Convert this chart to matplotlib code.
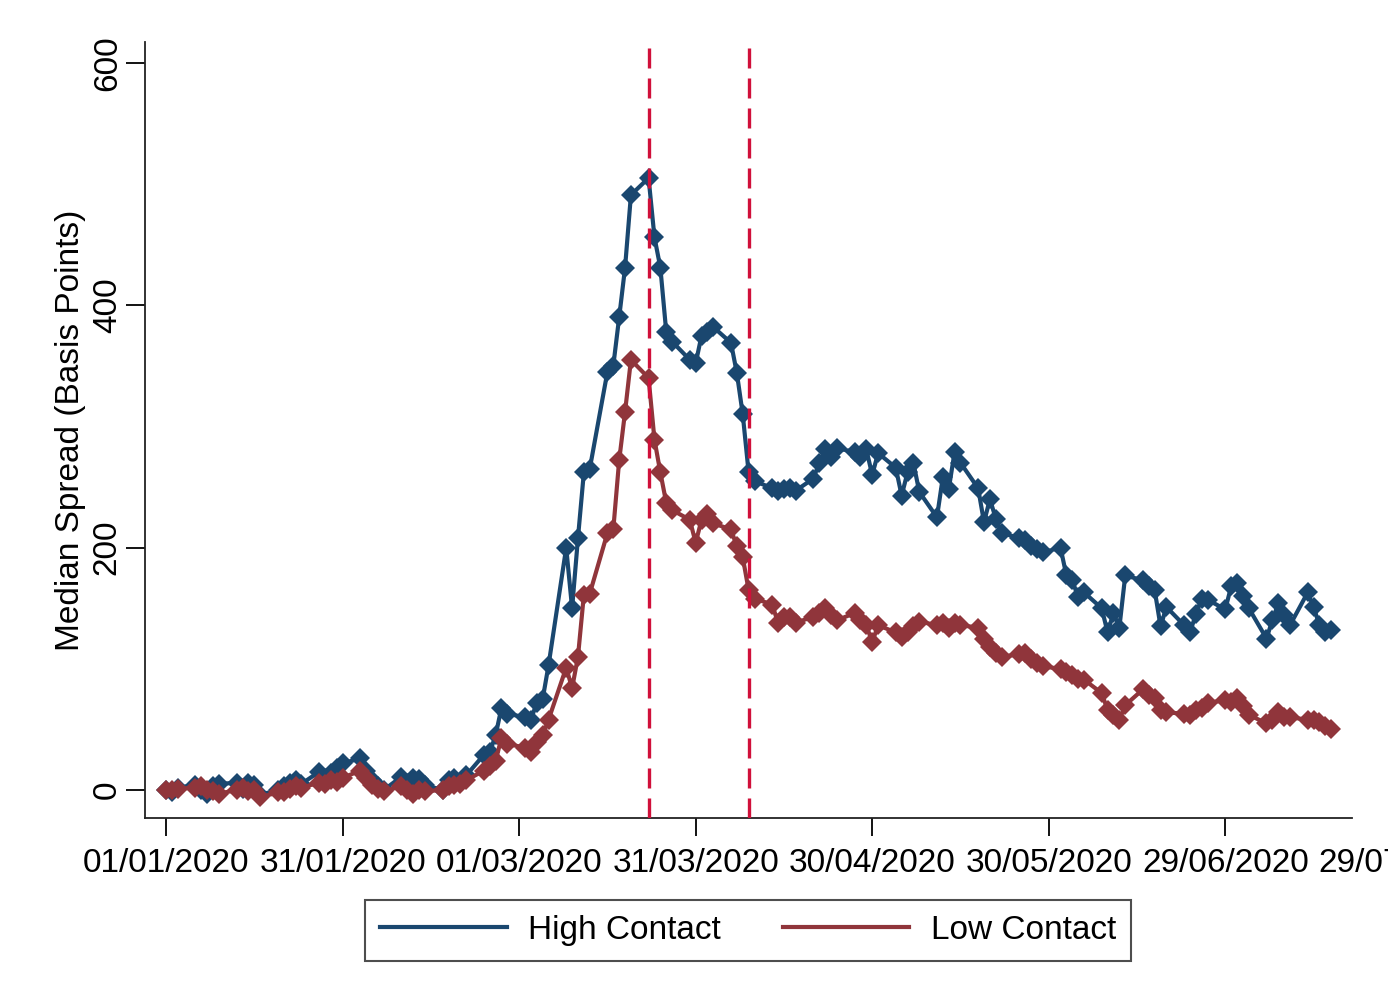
import numpy as np
import pandas as pd
import matplotlib
matplotlib.use('Agg')
import matplotlib.pyplot as plt
import matplotlib.dates as mdates
from matplotlib.lines import Line2D

plt.rcParams['font.family'] = ['Liberation Sans', 'DejaVu Sans']

# trading days, 1 Jan - 17 Jul 2020
dates = pd.bdate_range('2020-01-01', '2020-07-17')

# median spread, basis points (one row per month)
high_contact = (
    [0, -2, 2, 4, 0, -3, 3, 5, 6, 1, 6, 4, -4, 0, 3, 6, 8, 5, 15, 10, 14, 18, 22]
    + [26, 16, 8, 3, 0, 11, 6, 10, 9, 4, 0, 8, 10, 6, 12, 29, 31, 45, 68, 63]
    + [60, 58, 72, 75, 103, 200, 150, 208, 262, 265, 345, 350, 390, 431, 491, 505, 456, 431, 378, 370, 355, 352]
    + [375, 378, 382, 369, 344, 310, 262, 255, 249, 247, 248, 249, 247, 257, 270, 281, 275, 282, 279, 275, 281, 260]
    + [278, 266, 243, 262, 270, 246, 225, 258, 248, 279, 270, 249, 221, 240, 224, 212, 208, 206, 201, 199, 196]
    + [200, 177, 173, 159, 163, 150, 130, 146, 134, 177, 173, 168, 165, 135, 151, 136, 130, 145, 158, 157, 149, 168]
    + [171, 160, 150, 125, 140, 154, 144, 136, 163, 151, 136, 130, 132]
)
low_contact = (
    [0, 0, 1, 2, 3, 0, -1, -3, 0, 2, -1, 0, -6, -2, -2, 1, 3, 2, 6, 5, 8, 7, 10]
    + [16, 10, 4, 1, -1, 3, 0, -3, 0, -1, 0, 3, 4, 5, 8, 16, 20, 24, 43, 38]
    + [35, 31, 40, 45, 58, 101, 84, 110, 161, 162, 212, 215, 272, 312, 355, 340, 289, 262, 237, 231, 223, 204]
    + [223, 228, 220, 215, 201, 192, 165, 158, 153, 138, 143, 143, 138, 143, 146, 150, 144, 140, 146, 140, 136, 122]
    + [136, 130, 126, 130, 135, 139, 136, 138, 134, 138, 136, 134, 125, 118, 113, 110, 112, 113, 108, 105, 102]
    + [100, 97, 95, 92, 91, 80, 66, 62, 58, 70, 83, 78, 76, 66, 64, 63, 62, 66, 68, 72, 74, 73]
    + [76, 69, 62, 55, 58, 64, 60, 60, 58, 58, 56, 53, 50]
)

# policy announcement dates
events = pd.to_datetime(['2020-03-23', '2020-04-09'])
xticks = pd.date_range('2020-01-01', periods=8, freq='30D')
yticks = [0, 200, 400, 600]

blue = '#1a476f'
red = '#90353b'
fs = 24

fig = plt.figure(figsize=(13.88, 10.06), dpi=100)
# axes run past the right edge so the last date tick sits off-canvas
ax = fig.add_axes([0.1045, 0.187, 0.9186, 0.771])

ax.plot(dates, high_contact, color=blue, lw=3, marker='D', ms=10.5,
        markeredgewidth=0, label='High Contact')
ax.plot(dates, low_contact, color=red, lw=3, marker='D', ms=10.5,
        markeredgewidth=0, label='Low Contact')

for d in events:
    ax.axvline(d, color='#d0103a', lw=2.4, ls=(0, (6, 3)), zorder=3)

start = pd.Timestamp('2020-01-01')
x0 = start - pd.Timedelta(days=3.57)
ax.set_xlim(x0, start + pd.Timedelta(days=213.1))
ax.set_ylim(-23, 617)
ax.spines['bottom'].set_bounds(mdates.date2num(x0),
                               mdates.date2num(start + pd.Timedelta(days=201.5)))

ax.set_xticks(xticks)
ax.xaxis.set_major_formatter(mdates.DateFormatter('%d/%m/%Y'))
ax.set_yticks(yticks)
ax.tick_params(axis='x', length=13, width=1.3, pad=9, labelsize=fs)
ax.tick_params(axis='y', length=14, width=1.3, pad=2, labelsize=fs)
for lbl in ax.get_yticklabels():
    lbl.set_rotation(90)
    lbl.set_va('center')

ax.set_ylabel('Median Spread (Basis Points)', fontsize=fs, labelpad=4)

for s in ['top', 'right']:
    ax.spines[s].set_visible(False)
for s in ['left', 'bottom']:
    ax.spines[s].set_linewidth(1.3)
    ax.spines[s].set_color('#222222')

handles = [Line2D([], [], color=blue, lw=3), Line2D([], [], color=red, lw=3)]
leg = fig.legend(handles, ['High Contact', 'Low Contact'], loc='center',
                 bbox_to_anchor=(0.539, 0.0755), ncol=2, fontsize=fs,
                 frameon=True, fancybox=False, edgecolor='#222222',
                 handlelength=3.8, handletextpad=0.65, columnspacing=1.85,
                 borderpad=0.45, borderaxespad=0)
leg.get_frame().set_linewidth(1.5)

fig.savefig('out.png', dpi=100)
